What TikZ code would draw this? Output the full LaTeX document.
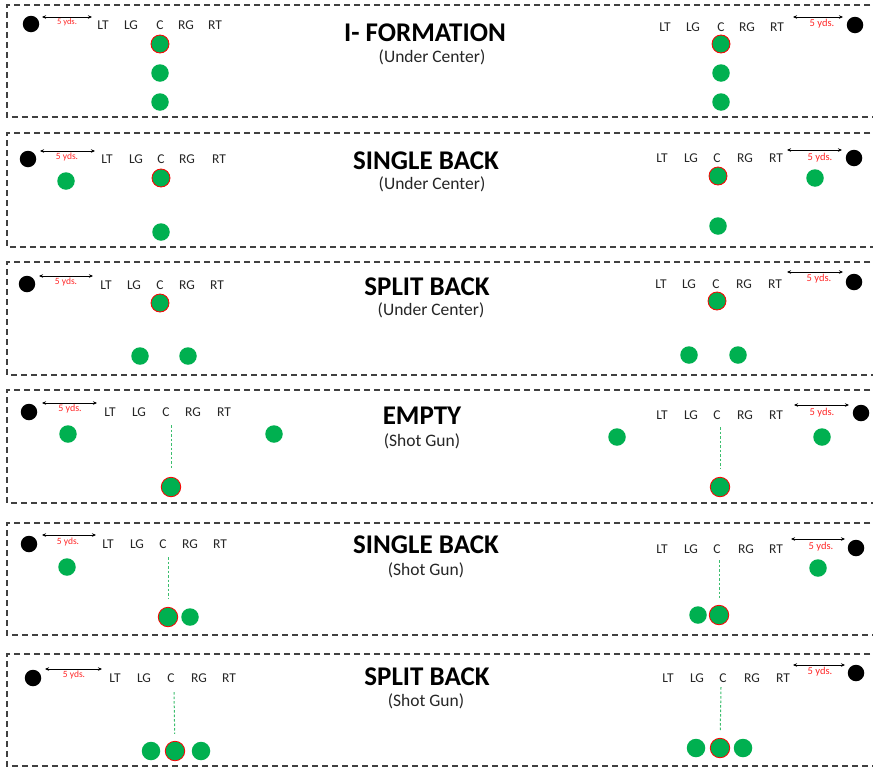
\documentclass[tikz,border=0pt]{standalone}
\usepackage{fontspec}
\setmainfont{Carlito}
\usetikzlibrary{arrows.meta}
\definecolor{pgreen}{RGB}{0,176,80}
\definecolor{snapgreen}{RGB}{60,190,110}
\definecolor{dashgray}{RGB}{64,64,64}
\definecolor{lblgray}{RGB}{38,38,38}
\definecolor{ydsred}{RGB}{255,40,40}
\newcommand\linemen[7]{\foreach \n/\x in {LT/#3,LG/#4,C/#5,RG/#6,RT/#7} \node[lbl] (#1\n) at (\x,#2) {\n};}
\newcommand\yardage[7]{\coordinate (#1a) at (#2,#4); \coordinate (#1b) at (#3,#4); \draw[meas] (#1a) -- (#1b); \node[yds,font=\fontsize{#7}{#7}\selectfont] (#1t) at (#5,#6) {5 yds.};}
\newcommand\panelbox[2]{\draw[panel] (880,#1) -- (7,#1) -- (7,#2) -- (880,#2);}
\begin{document}
\begin{tikzpicture}[x=1pt,y=-1pt,
  panel/.style={draw=dashgray,line width=1.5pt,dash pattern=on 6pt off 4pt},
  player/.style={circle,fill=pgreen,minimum size=17.5pt,inner sep=0pt},
  cplayer/.style={circle,fill=pgreen,draw=red,line width=0.8pt,minimum size=18pt,inner sep=0pt},
  qbdot/.style={circle,fill=black,minimum size=16.5pt,inner sep=0pt},
  lbl/.style={inner sep=0pt,text=lblgray,font=\fontsize{13.5}{14}\selectfont},
  yds/.style={inner sep=0pt,text=ydsred},
  meas/.style={{Stealth[length=4pt,width=3.5pt]}-{Stealth[length=4pt,width=3.5pt]},line width=0.8pt,black},
  ttl/.style={inner sep=0pt,font=\fontsize{27}{28}\selectfont\bfseries},
  sub/.style={inner sep=0pt,text=lblgray,font=\fontsize{17.5}{18}\selectfont},
  snap/.style={draw=snapgreen,line width=1pt,dash pattern=on 2.5pt off 2pt}]
\useasboundingbox (0,0) rectangle (873,766);
\fill[white] (0,0) rectangle (873,766);

% ===== Panel 1: I- FORMATION
\panelbox{5}{117}
\node[ttl] (t1) at (425,33) {I- FORMATION};
\node[sub] (s1) at (432,57) {(Under Center)};
\node[qbdot] (d1L) at (31,24) {};
\yardage{y1L}{42}{92}{17}{67}{22}{8.5}
\linemen{p1L}{25}{103}{131}{160}{186}{215}
\node[cplayer] (c1L) at (160,44) {};
\node[player] (b1La) at (160,73) {};
\node[player] (b1Lb) at (160,102) {};
\linemen{p1R}{27}{665}{693}{721}{747}{777}
\yardage{y1R}{793}{843}{17}{822}{24}{10.5}
\node[qbdot] (d1R) at (855,25) {};
\node[cplayer] (c1R) at (721,44) {};
\node[player] (b1Ra) at (721,73) {};
\node[player] (b1Rb) at (721,102) {};

% ===== Panel 2: SINGLE BACK (Under Center)
\panelbox{133}{247}
\node[ttl] (t2) at (426,161) {SINGLE BACK};
\node[sub] (s2) at (432,184) {(Under Center)};
\node[qbdot] (d2L) at (28,159) {};
\yardage{y2L}{40}{95}{151}{67}{157}{9.5}
\linemen{p2L}{159}{107}{136}{161}{187}{219}
\node[cplayer] (c2L) at (161,178) {};
\node[player] (w2L) at (66,181) {};
\node[player] (b2L) at (161,232) {};
\linemen{p2R}{158}{662}{691}{717}{745}{776}
\yardage{y2R}{787}{842}{150}{820}{158}{10.5}
\node[qbdot] (d2R) at (854,158) {};
\node[cplayer] (c2R) at (718,176) {};
\node[player] (w2R) at (815,178) {};
\node[player] (b2R) at (718,226) {};

% ===== Panel 3: SPLIT BACK (Under Center)
\panelbox{262}{375}
\node[ttl] (t3) at (427,287) {SPLIT BACK};
\node[sub] (s3) at (431,310) {(Under Center)};
\node[qbdot] (d3L) at (27,284) {};
\yardage{y3L}{39}{93}{276}{66}{282}{9.5}
\linemen{p3L}{285}{106}{134}{160}{187}{217}
\node[cplayer] (c3L) at (160,303) {};
\node[player] (b3La) at (140,356) {};
\node[player] (b3Lb) at (188,356) {};
\linemen{p3R}{284}{661}{689}{716}{744}{775}
\yardage{y3R}{787}{843}{272}{819}{279}{10.5}
\node[qbdot] (d3R) at (854,282) {};
\node[cplayer] (c3R) at (717,301) {};
\node[player] (b3Ra) at (689,355) {};
\node[player] (b3Rb) at (738,355) {};

% ===== Panel 4: EMPTY (Shot Gun)
\panelbox{390}{503}
\node[ttl] (t4) at (422,416) {EMPTY};
\node[sub] (s4) at (422,441) {(Shot Gun)};
\node[qbdot] (d4L) at (29,412) {};
\yardage{y4L}{42}{97}{403}{70}{409}{10}
\linemen{p4L}{412}{110}{139}{166}{193}{224}
\node[player] (w4La) at (68,434) {};
\node[player] (w4Lb) at (274,434) {};
\coordinate (n4L) at (171,425);
\node[cplayer,minimum size=19.5pt] (c4L) at (171,487) {};
\draw[snap,shorten >=9pt] (n4L) -- (c4L);
\linemen{p4R}{415}{662}{691}{717}{745}{776}
\yardage{y4R}{794}{849}{405}{822}{413}{10.5}
\node[qbdot] (d4R) at (861,413) {};
\node[player] (w4Ra) at (617,437) {};
\node[player] (w4Rb) at (822,437) {};
\coordinate (n4R) at (720,427);
\node[cplayer,minimum size=19.5pt] (c4R) at (720,487) {};
\draw[snap,shorten >=8pt] (n4R) -- (c4R);

% ===== Panel 5: SINGLE BACK (Shot Gun)
\panelbox{523}{635}
\node[ttl] (t5) at (426,545) {SINGLE BACK};
\node[sub] (s5) at (426,570) {(Shot Gun)};
\node[qbdot] (d5L) at (29,544) {};
\yardage{y5L}{42}{96}{535}{68}{542}{9.5}
\linemen{p5L}{544}{108}{137}{163}{190}{220}
\node[player] (w5L) at (67,567) {};
\coordinate (n5L) at (168,557);
\node[cplayer,minimum size=19.5pt] (c5L) at (168,617) {};
\draw[snap,shorten >=9pt] (n5L) -- (c5L);
\node[player] (b5L) at (190,617) {};
\linemen{p5R}{549}{662}{691}{717}{746}{776}
\yardage{y5R}{791}{845}{539}{821}{547}{10.5}
\node[qbdot] (d5R) at (856,548) {};
\node[player] (w5R) at (818,568) {};
\coordinate (n5R) at (719,560);
\node[cplayer,minimum size=19.5pt] (c5R) at (719,615) {};
\draw[snap,shorten >=7pt] (n5R) -- (c5R);
\node[player] (b5R) at (698,615) {};

% ===== Panel 6: SPLIT BACK (Shot Gun)
\panelbox{654}{766}
\node[ttl] (t6) at (427,677) {SPLIT BACK};
\node[sub] (s6) at (426,701) {(Shot Gun)};
\node[qbdot] (d6L) at (33,678) {};
\yardage{y6L}{45}{102}{669}{74}{675}{9.5}
\linemen{p6L}{678}{115}{144}{171}{199}{229}
\coordinate (n6L) at (174,692);
\node[cplayer,minimum size=19.5pt] (c6L) at (175,751) {};
\draw[snap,shorten >=7pt] (n6L) -- (c6L);
\node[player,minimum size=18.5pt] (b6La) at (151,751) {};
\node[player,minimum size=18.5pt] (b6Lb) at (201,751) {};
\linemen{p6R}{678}{668}{697}{723}{752}{783}
\yardage{y6R}{793}{845}{665}{820}{672}{10.5}
\node[qbdot] (d6R) at (856,673) {};
\coordinate (n6R) at (721,687);
\node[cplayer,minimum size=19.5pt] (c6R) at (720,748) {};
\draw[snap,shorten >=7pt] (n6R) -- (c6R);
\node[player,minimum size=18.5pt] (b6Ra) at (696,748) {};
\node[player,minimum size=18.5pt] (b6Rb) at (743,748) {};
\end{tikzpicture}
\end{document}
